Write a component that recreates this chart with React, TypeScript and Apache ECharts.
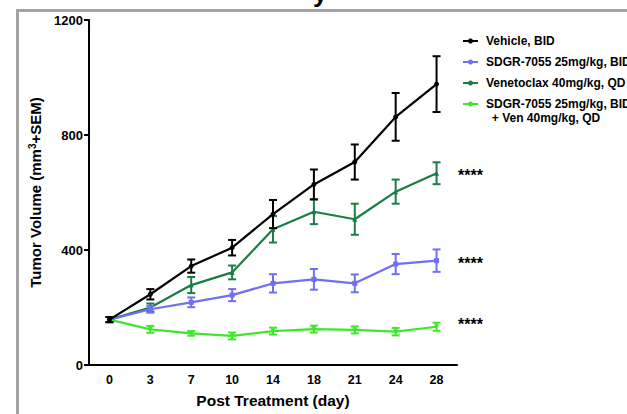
import React, { useEffect, useRef } from "react";
import * as echarts from "echarts";

const days = ["0", "3", "7", "10", "14", "18", "21", "24", "28"];
const seriesNames = [
  "Vehicle, BID",
  "SDGR-7055 25mg/kg, BID",
  "Venetoclax 40mg/kg, QD",
  "SDGR-7055 25mg/kg, BID\n+ Ven 40mg/kg, QD",
];
const vehicle = [158, 246, 344, 408, 525, 628, 706, 863, 977];
const vehicleSem = [9, 18, 23, 27, 49, 52, 61, 83, 97];
const sdgr = [158, 194, 218, 243, 284, 298, 284, 351, 363];
const sdgrSem = [9, 12, 17, 21, 32, 36, 31, 35, 39];
const ven = [158, 200, 278, 322, 472, 533, 507, 603, 667];
const venSem = [9, 14, 28, 24, 46, 43, 54, 42, 38];
const combo = [158, 124, 110, 101, 118, 125, 122, 116, 133];
const comboSem = [9, 12, 8, 12, 12, 12, 12, 13, 14];
const stars = ["****", "****", "****"];
const yTicks = [0, 400, 800, 1200];

const colors = ["#000000", "#6f6ff2", "#1b7d46", "#3ee62c"];
const FONT = "'Liberation Sans', Arial, sans-serif";

export default function App() {
  const ref = useRef<HTMLDivElement>(null);
  useEffect(() => {
    if (!ref.current) return;
    const chart = echarts.init(ref.current, undefined, { renderer: "svg" });
    const means = [vehicle, sdgr, ven, combo];
    const sems = [vehicleSem, sdgrSem, venSem, comboSem];
    const symbols = ["circle", "rect", "triangle", "triangle"];

    const errSeries = means.map((m, si) => ({
      type: "custom",
      name: seriesNames[si] + "-err",
      renderItem: (params: any, api: any) => {
        const idx = api.value(0);
        const lo = api.coord([idx, api.value(1)]);
        const hi = api.coord([idx, api.value(2)]);
        const hw = 4;
        const st = { stroke: colors[si], lineWidth: 2 };
        return {
          type: "group",
          children: [
            { type: "line", shape: { x1: lo[0], y1: lo[1], x2: hi[0], y2: hi[1] }, style: st },
            { type: "line", shape: { x1: lo[0] - hw, y1: lo[1], x2: lo[0] + hw, y2: lo[1] }, style: st },
            { type: "line", shape: { x1: hi[0] - hw, y1: hi[1], x2: hi[0] + hw, y2: hi[1] }, style: st },
          ],
        };
      },
      encode: { x: 0, y: [1, 2] },
      data: m.map((v, i) => [i, v - sems[si][i], v + sems[si][i]]),
      silent: true,
    }));

    const lineSeries = means.map((m, si) => ({
      type: "line",
      name: seriesNames[si],
      data: m,
      symbol: symbols[si],
      symbolRotate: si === 3 ? 180 : 0,
      symbolSize: 5,
      showSymbol: true,
      lineStyle: { color: colors[si], width: 2.2 },
      itemStyle: { color: colors[si] },
    }));

    // draw order: combo, ven, sdgr, vehicle (vehicle on top)
    const order = [3, 2, 1, 0];
    const series: any[] = [];
    order.forEach((k, j) => {
      series.push({ ...errSeries[k], z: 2 + j }, { ...lineSeries[k], z: 2 + j });
    });

    const legendY = [41, 62, 83, 104];
    const legendGraphics: any[] = [];
    legendY.forEach((y, i) => {
      legendGraphics.push({
        type: "line",
        shape: { x1: 463, y1: y, x2: 478, y2: y },
        style: { stroke: colors[i], lineWidth: 2 },
      });
      legendGraphics.push({
        type: "circle",
        shape: { cx: 470.5, cy: y, r: 2.5 },
        style: { fill: colors[i] },
      });
    });
    const lf = `bold 12px ${FONT}`;
    legendGraphics.push(
      { type: "text", x: 486, y: 41, style: { text: seriesNames[0], font: lf, fill: "#000", verticalAlign: "middle" } },
      { type: "text", x: 486, y: 62, style: { text: seriesNames[1], font: lf, fill: "#000", verticalAlign: "middle" } },
      { type: "text", x: 486, y: 83, style: { text: seriesNames[2], font: lf, fill: "#000", verticalAlign: "middle" } },
      { type: "text", x: 486, y: 104, style: { text: seriesNames[3].split("\n")[0], font: lf, fill: "#000", verticalAlign: "middle" } },
      { type: "text", x: 546, y: 118, style: { text: seriesNames[3].split("\n")[1], font: lf, fill: "#000", verticalAlign: "middle", align: "center" } }
    );

    const starY = [173, 261, 322];
    const starGraphics = starY.map((y, i) => ({
      type: "text",
      x: 458,
      y: y + 2,
      style: { text: stars[i], font: `bold 16px ${FONT}`, fill: "#000", verticalAlign: "middle" },
    }));

    chart.setOption({
      animation: false,
      backgroundColor: "#ffffff",
      textStyle: { fontFamily: FONT },
      grid: { left: 89, right: 170, top: 20, bottom: 49, containLabel: false },
      xAxis: {
        type: "category",
        data: days,
        boundaryGap: true,
        name: "Post Treatment (day)",
        nameLocation: "middle",
        nameGap: 27,
        nameTextStyle: { fontWeight: "bold", fontSize: 15.5, color: "#000", fontFamily: FONT },
        axisLine: { lineStyle: { color: "#000", width: 2 } },
        axisTick: { alignWithLabel: true, length: 5, lineStyle: { color: "#000", width: 2 } },
        axisLabel: { fontWeight: "bold", fontSize: 12.5, color: "#000", margin: 8, fontFamily: FONT },
        splitLine: { show: false },
      },
      yAxis: {
        type: "value",
        min: 0,
        max: 1200,
        interval: 400,
        name: "{a|Tumor Volume (mm}{s|3}{a|+SEM)}",
        nameLocation: "middle",
        nameGap: 45,
        nameTextStyle: {
          rich: {
            a: { fontWeight: "bold", fontSize: 15, color: "#000", fontFamily: FONT },
            s: { fontWeight: "bold", fontSize: 10, color: "#000", fontFamily: FONT, verticalAlign: "top", padding: [0, 0, 6, 0] },
          },
        },
        axisLine: { show: true, lineStyle: { color: "#000", width: 2 } },
        axisTick: { show: true, length: 5, lineStyle: { color: "#000", width: 2 } },
        axisLabel: {
          fontWeight: "bold",
          fontSize: 13,
          color: "#000",
          margin: 6,
          fontFamily: FONT,
          formatter: (v: number) => (yTicks.includes(v) ? String(v) : ""),
        },
        splitLine: { show: false },
      },
      series,
      graphic: [
        {
          type: "polyline",
          shape: { points: [[17.5, 414], [17.5, 10.5], [627, 10.5]] },
          style: { stroke: "#a3a3a3", lineWidth: 3, fill: "none" },
          z: 1,
        },
        {
          type: "text",
          x: 313,
          y: 6,
          style: { text: "y", font: `bold 26px ${FONT}`, fill: "#000", verticalAlign: "bottom" },
        },
        ...legendGraphics,
        ...starGraphics,
      ],
    });
    return () => chart.dispose();
  }, []);
  return (
    <div
      ref={ref}
      style={{ position: "fixed", left: 0, top: 0, width: 627, height: 414, background: "#fff" }}
    />
  );
}
